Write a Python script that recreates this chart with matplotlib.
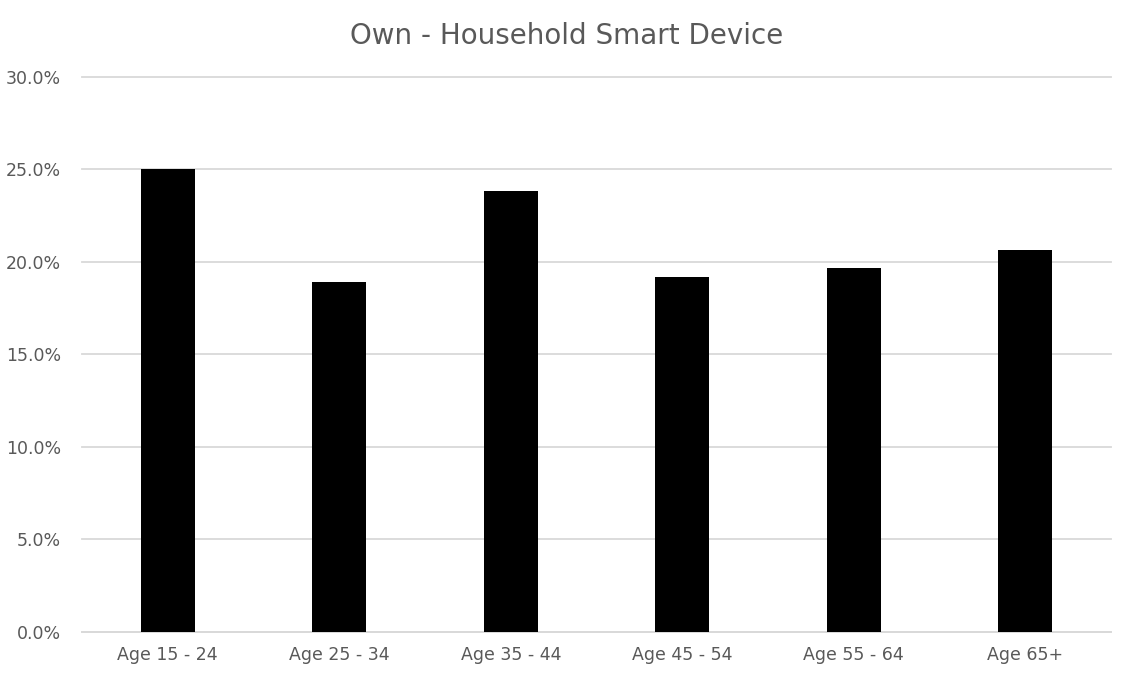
import matplotlib
matplotlib.use("Agg")
import matplotlib.pyplot as plt
from matplotlib.ticker import FuncFormatter, MultipleLocator

categories = ["Age 15 - 24", "Age 25 - 34", "Age 35 - 44", "Age 45 - 54", "Age 55 - 64", "Age 65+"]
own_share = [25.0, 18.9, 23.85, 19.2, 19.7, 20.65]

text_color = "#595959"
grid_color = "#d9d9d9"

plt.rcParams["font.family"] = ["DejaVu Sans"]

fig = plt.figure(figsize=(11.33, 6.8), dpi=100)
ax = fig.add_axes([0.0724, 0.0706, 0.9082, 0.8162])

x = range(len(categories))
ax.bar(x, own_share, width=0.315, color="black", zorder=3)

ax.set_xlim(-0.5, len(categories) - 0.5)
ax.set_ylim(0, 30)
ax.yaxis.set_major_locator(MultipleLocator(5))
ax.yaxis.set_major_formatter(FuncFormatter(lambda v, _: f"{v:.1f}%"))
ax.set_xticks(list(x))
ax.set_xticklabels(categories)

ax.grid(axis="y", color=grid_color, linewidth=1.3, zorder=0)
for gl in ax.get_ygridlines():
    gl.set_clip_on(False)
for side in ["top", "right", "left"]:
    ax.spines[side].set_visible(False)
ax.spines["bottom"].set_color(grid_color)
ax.spines["bottom"].set_linewidth(1.3)

ax.tick_params(axis="both", length=0, colors=text_color, labelsize=12.5)
ax.tick_params(axis="y", pad=15)
ax.tick_params(axis="x", pad=10)

fig.suptitle("Own - Household Smart Device", fontsize=20, color=text_color, y=0.968)

fig.savefig("out.png", dpi=100)
